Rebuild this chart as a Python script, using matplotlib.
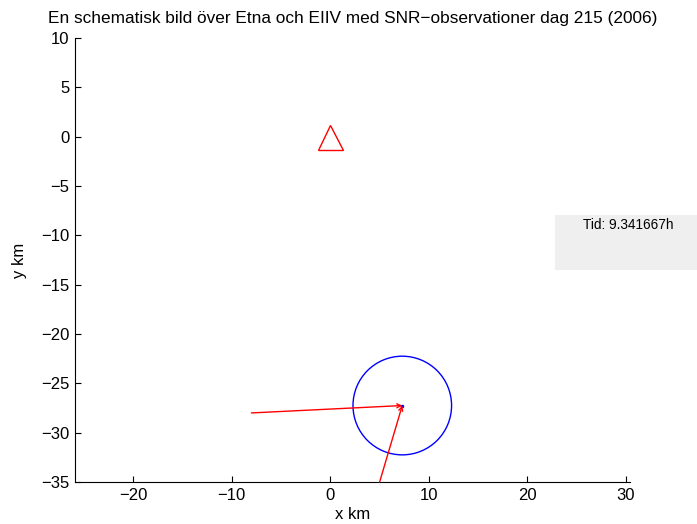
import numpy as np
import matplotlib
matplotlib.use('Agg')
from matplotlib import pyplot as plt
from matplotlib.patches import Circle, Rectangle

plt.rcParams['font.family'] = ['Liberation Sans', 'DejaVu Sans']

# Etna summit and EIIV station position (km)
etna = (0.0, 0.0)
eiiv = (7.3, -27.25)
snr_radius = 5.0

# start points of the two SNR observation rays (km)
ray_x = [-8.0, 5.0]
ray_y = [-28.0, -35.0]

tid = 9.341667
xticks = [-20, -10, 0, 10, 20, 30]
yticks = [-35, -30, -25, -20, -15, -10, -5, 0, 5, 10]

fig = plt.figure(figsize=(6.97, 5.24), dpi=100)
ax = fig.add_axes([75/697, 1-482/524, (630-75)/697, (482-38)/524])

ax.plot(etna[0], etna[1], '^', mfc='none', mec='r', ms=18, mew=1, clip_on=False)
ax.add_patch(Circle(eiiv, snr_radius, fill=False, ec='b', lw=1))
ax.plot(eiiv[0], eiiv[1], '.', color='b', ms=3)

for sx, sy in zip(ray_x, ray_y):
    ax.annotate('', xy=eiiv, xytext=(sx, sy),
                arrowprops=dict(arrowstyle='->', color='r', lw=1,
                                mutation_scale=7, shrinkA=0, shrinkB=0))

ax.set_xlim(-25.9, 30.4)
ax.set_ylim(-35, 10)
ax.set_xticks(xticks)
ax.set_yticks(yticks)
ax.set_xticklabels([str(t).replace('-', '\u2212') for t in xticks])
ax.set_yticklabels([str(t).replace('-', '\u2212') for t in yticks])
ax.tick_params(direction='in', length=4, labelsize=12, width=0.8, pad=4)
ax.spines['top'].set_visible(False)
ax.spines['right'].set_visible(False)
ax.set_xlabel('x km', fontsize=12, labelpad=3)
ax.set_ylabel('y km', fontsize=12, labelpad=10)
ax.set_title('En schematisk bild över Etna och EIIV med SNR\u2212observationer dag 215 (2006)',
             fontsize=12.4, pad=11)

# time box
fig.patches.append(Rectangle((555/697, 1-270/524), 142/697, 55/524,
                             transform=fig.transFigure, fc='#efefef', ec='none'))
fig.text(628/697, 1-225/524, 'Tid: %fh' % tid, ha='center', va='center', fontsize=9.8)

fig.savefig('out.png', dpi=100)
